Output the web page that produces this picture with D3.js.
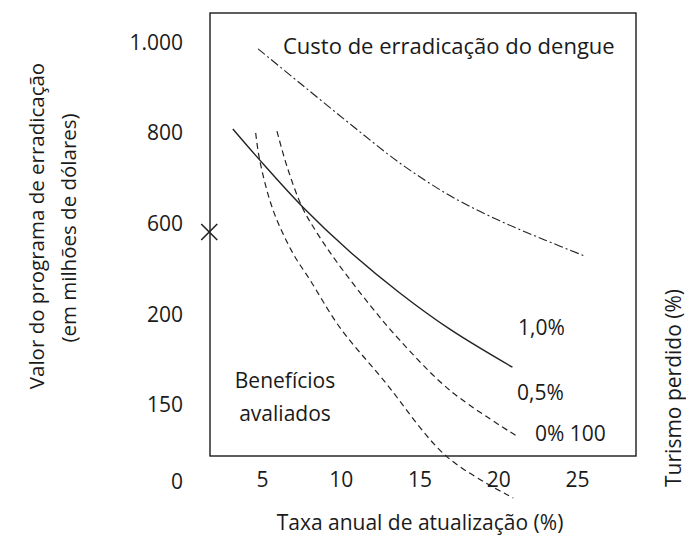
<!DOCTYPE html>
<html lang="pt">
<head>
  <meta charset="utf-8">
  <title>Custo de erradicação do dengue</title>
  <style>
    body { margin: 0; background: #fff; }
    svg text { font-family: "Open Sans", "Noto Sans", sans-serif; fill: #1a1a1a; }
  </style>
</head>
<body>
<svg id="chart" width="686" height="537"></svg>

<script src="https://d3js.org/d3.v7.min.js"></script>
<script>

// tick labels (the printed y scale is not linear)
const yTicks = [0, 150, 200, 600, 800, 1000];
const xTicks = [5, 10, 15, 20, 25];

// curves: taxa anual (%) -> valor (milhões de dólares)
const taxaCusto  = [4.75, 7.4, 10.6, 13.75, 16.95, 20.1, 22.95, 25.5];
const valorCusto = [987, 911, 820, 734, 662, 607, 530, 459];

const taxa10  = [3.15, 4.85, 7.6, 10.6, 13.75, 16.95, 20.9];
const valor10 = [809, 741, 637, 477, 297, 192, 171];

const taxa05  = [5.95, 6.6, 7.55, 8.5, 9.75, 11.85, 13.75, 16.95, 21.25];
const valor05 = [804, 725, 637, 560, 433, 244, 186, 158, 88];

const taxa00  = [4.6, 4.85, 5.7, 6.95, 8.05, 9.95, 12.7, 16.75, 20.95];
const valor00 = [800, 741, 631, 473, 354, 193, 164, 49, -31];

const marcaTaxa = [1.65];
const marcaValor = [565];

const svg = d3.select("#chart");

// scales
let x = d3.scaleLinear().domain([0, 25]).range([183.25, 577]);
// piecewise scale so that ticks land where the printed labels are
let y = d3.scaleLinear()
  .domain(yTicks)
  .range([482, 405, 315, 224, 133, 43]);

// frame
svg.append("rect")
  .attr("x", 210).attr("y", 13)
  .attr("width", 426).attr("height", 443)
  .attr("fill", "none")
  .attr("stroke", "#1a1a1a")
  .attr("stroke-width", 1.4);

// axes (labels only)
let fmt = d => d === 1000 ? "1.000" : String(d);

let gy = svg.append("g")
  .attr("transform", "translate(183,0)")
  .call(d3.axisLeft(y).tickValues(yTicks).tickSize(0).tickPadding(0).tickFormat(fmt));
gy.select(".domain").remove();

let gx = svg.append("g")
  .attr("transform", "translate(0,472)")
  .call(d3.axisBottom(x).tickValues(xTicks).tickSize(0).tickPadding(0));
gx.select(".domain").remove();

svg.selectAll(".tick text")
  .attr("font-family", "Open Sans")
  .attr("font-size", 21)
  .attr("fill", "#1a1a1a");

// curves
let line = d3.line()
  .x(d => x(d[0]))
  .y(d => y(d[1]))
  .curve(d3.curveCatmullRom.alpha(0.5));

let series = [
  {t: taxaCusto, v: valorCusto, dash: "9,3,2,3", w: 1.1},
  {t: taxa10, v: valor10, dash: null, w: 1.4},
  {t: taxa05, v: valor05, dash: "6,4", w: 1.2},
  {t: taxa00, v: valor00, dash: "6,4", w: 1.2}
];

svg.append("g").selectAll("path")
  .data(series)
  .join("path")
    .attr("d", s => line(d3.zip(s.t, s.v)))
    .attr("fill", "none")
    .attr("stroke", "#222")
    .attr("stroke-width", s => s.w)
    .attr("stroke-dasharray", s => s.dash);

// X marker on the left edge
let mk = svg.append("g").selectAll("g")
  .data(d3.zip(marcaTaxa, marcaValor))
  .join("g")
    .attr("transform", d => "translate(" + x(d[0]) + "," + y(d[1]) + ")");
mk.append("path")
  .attr("d", "M-8,-8L8,8M-8,8L8,-8")
  .attr("stroke", "#222")
  .attr("stroke-width", 1.6);

// texts
function label(txt, px, py, anchor, size) {
  return svg.append("text")
    .attr("x", px).attr("y", py)
    .attr("text-anchor", anchor || "start")
    .attr("dominant-baseline", "central")
    .attr("font-size", size || 21)
    .text(txt);
}

label("Custo de erradicação do dengue", 283, 45, "start", 22);
label("1,0%", 518, 327);
label("0,5%", 517, 392);
label("0%  100", 535, 433);
label("Benefícios", 285, 380, "middle");
label("avaliados", 285, 413, "middle");

label("Taxa anual de atualização (%)", 420, 522, "middle");

function vlabel(txt, px, py, size) {
  svg.append("text")
    .attr("transform", "translate(" + px + "," + py + ") rotate(-90)")
    .attr("text-anchor", "middle")
    .attr("dominant-baseline", "central")
    .attr("font-size", size)
    .text(txt);
}
vlabel("Valor do programa de erradicação", 36, 226, 20.5);
vlabel("(em milhões de dólares)", 68, 228, 20.5);
vlabel("Turismo perdido (%)", 673, 388, 21);

</script>
</body>
</html>
